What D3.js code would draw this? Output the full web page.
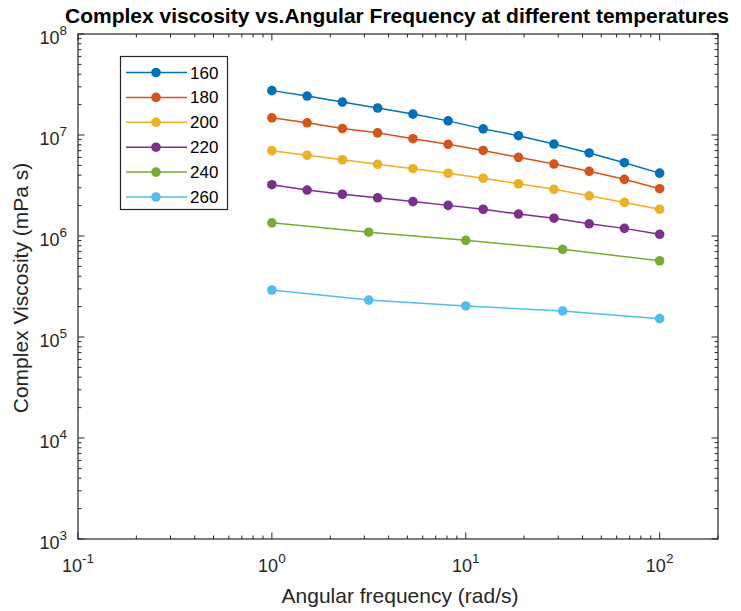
<!DOCTYPE html>
<html>
<head>
<meta charset="utf-8">
<script src="https://cdn.jsdelivr.net/npm/d3@7"></script>
<style>
  body { margin: 0; background: #fff; }
  svg { font-family: "Liberation Sans", Arial, sans-serif; }
</style>
</head>
<body>
<svg id="chart" width="741" height="611"></svg>
<script>

// frequencies (rad/s)
var freqFine = [1, 1.52, 2.31, 3.51, 5.34, 8.11, 12.3, 18.7, 28.5, 43.3, 65.8, 100];
var freqCoarse = [1, 3.16, 10, 31.6, 100];

// complex viscosity (mPa s)
var visc160 = [2.75e7, 2.43e7, 2.12e7, 1.85e7, 1.61e7, 1.38e7, 1.15e7, 9.84e6, 8.14e6, 6.64e6, 5.32e6, 4.19e6];
var visc180 = [1.48e7, 1.32e7, 1.16e7, 1.05e7, 9.19e6, 8.09e6, 7.03e6, 6.01e6, 5.16e6, 4.37e6, 3.64e6, 2.94e6];
var visc200 = [7.0e6, 6.30e6, 5.69e6, 5.13e6, 4.64e6, 4.18e6, 3.73e6, 3.29e6, 2.90e6, 2.50e6, 2.15e6, 1.84e6];
var visc220 = [3.22e6, 2.85e6, 2.59e6, 2.39e6, 2.19e6, 2.01e6, 1.84e6, 1.65e6, 1.50e6, 1.32e6, 1.19e6, 1.04e6];
var visc240 = [1.35e6, 1.09e6, 9.07e5, 7.38e5, 5.69e5];
var visc260 = [2.92e5, 2.32e5, 2.03e5, 1.81e5, 1.52e5];

var temps = ["160", "180", "200", "220", "240", "260"];
var colors = ["#0072BD", "#D95319", "#EDB120", "#7E2F8E", "#77AC30", "#4DBEEE"];

var xTicks = [0.1, 1, 10, 100];
var yTicks = [1e3, 1e4, 1e5, 1e6, 1e7, 1e8];

var series = [
	{name: temps[0], x: freqFine, y: visc160},
	{name: temps[1], x: freqFine, y: visc180},
	{name: temps[2], x: freqFine, y: visc200},
	{name: temps[3], x: freqFine, y: visc220},
	{name: temps[4], x: freqCoarse, y: visc240},
	{name: temps[5], x: freqCoarse, y: visc260}
];

var plotL = 78, plotR = 718, plotT = 34, plotB = 539;
var axisColor = "#262626";

var svg = d3.select("#chart");

var xScale = d3.scaleLog().domain([0.1, 200]).range([plotL, plotR]);
var yScale = d3.scaleLog().domain([1e3, 1e8]).range([plotB, plotT]);

// minor + major ticks, inward, on all four sides
function minorTicks(lo, hi) {
	var out = [];
	for (var e = Math.floor(Math.log10(lo)); e <= Math.ceil(Math.log10(hi)); e++) {
		for (var m = 1; m < 10; m++) {
			var v = m * Math.pow(10, e);
			if (v >= lo * 0.999 && v <= hi * 1.001) out.push({v: v, major: m == 1});
		}
	}
	return out;
}

var g = svg.append("g");

var xt = minorTicks(0.1, 200);
g.selectAll("line.xtb").data(xt).enter().append("line")
	.attr("x1", d => xScale(d.v)).attr("x2", d => xScale(d.v))
	.attr("y1", plotB).attr("y2", d => plotB - (d.major ? 6.5 : 3.5))
	.attr("stroke", axisColor).attr("stroke-width", 1);
g.selectAll("line.xtt").data(xt).enter().append("line")
	.attr("x1", d => xScale(d.v)).attr("x2", d => xScale(d.v))
	.attr("y1", plotT).attr("y2", d => plotT + (d.major ? 6.5 : 3.5))
	.attr("stroke", axisColor).attr("stroke-width", 1);

var yt = minorTicks(1e3, 1e8);
g.selectAll("line.ytl").data(yt).enter().append("line")
	.attr("y1", d => yScale(d.v)).attr("y2", d => yScale(d.v))
	.attr("x1", plotL).attr("x2", d => plotL + (d.major ? 6.5 : 3.5))
	.attr("stroke", axisColor).attr("stroke-width", 1);
g.selectAll("line.ytr").data(yt).enter().append("line")
	.attr("y1", d => yScale(d.v)).attr("y2", d => yScale(d.v))
	.attr("x1", plotR).attr("x2", d => plotR - (d.major ? 6.5 : 3.5))
	.attr("stroke", axisColor).attr("stroke-width", 1);

g.append("rect")
	.attr("x", plotL).attr("y", plotT)
	.attr("width", plotR - plotL).attr("height", plotB - plotT)
	.attr("fill", "none").attr("stroke", axisColor).attr("stroke-width", 1.2);

// tick labels as 10^n
function powLabel(sel, v) {
	var e = Math.round(Math.log10(v));
	sel.append("tspan").text("10");
	sel.append("tspan").attr("dy", -9).attr("font-size", 13.5).text(e);
}

xTicks.forEach(function(v) {
	var t = svg.append("text")
		.attr("x", xScale(v)).attr("y", 572)
		.attr("text-anchor", "middle")
		.attr("font-size", 18).attr("fill", axisColor);
	powLabel(t, v);
});

yTicks.forEach(function(v) {
	var t = svg.append("text")
		.attr("x", 67).attr("y", yScale(v) + 10)
		.attr("text-anchor", "end")
		.attr("font-size", 18).attr("fill", axisColor);
	powLabel(t, v);
});

// lines + markers
var line = d3.line()
	.x(d => xScale(d[0]))
	.y(d => yScale(d[1]));

series.forEach(function(s, i) {
	var pts = s.x.map((x, j) => [x, s.y[j]]);
	svg.append("path")
		.attr("d", line(pts))
		.attr("fill", "none")
		.attr("stroke", colors[i])
		.attr("stroke-width", 1.5);
	svg.selectAll("circle.s" + i).data(pts).enter().append("circle")
		.attr("cx", d => xScale(d[0]))
		.attr("cy", d => yScale(d[1]))
		.attr("r", 4.8)
		.attr("fill", colors[i]);
});

// legend
var leg = svg.append("g");
leg.append("rect")
	.attr("x", 120.5).attr("y", 56.5)
	.attr("width", 107).attr("height", 153)
	.attr("fill", "#fff").attr("stroke", axisColor).attr("stroke-width", 1.2);

temps.forEach(function(t, i) {
	var y = 72.5 + i * 24.9;
	leg.append("line")
		.attr("x1", 126).attr("x2", 187).attr("y1", y).attr("y2", y)
		.attr("stroke", colors[i]).attr("stroke-width", 1.5);
	leg.append("circle")
		.attr("cx", 156).attr("cy", y).attr("r", 4.8).attr("fill", colors[i]);
	leg.append("text")
		.attr("x", 190).attr("y", y + 6)
		.attr("font-size", 17).attr("fill", "#000")
		.text(t);
});

// title and axis labels
svg.append("text")
	.attr("x", 397).attr("y", 23)
	.attr("text-anchor", "middle")
	.attr("font-size", 21).attr("font-weight", "bold")
	.attr("fill", "#000")
	.text("Complex viscosity vs.Angular Frequency at different temperatures");

svg.append("text")
	.attr("x", 400).attr("y", 603)
	.attr("text-anchor", "middle")
	.attr("font-size", 21).attr("fill", axisColor)
	.text("Angular frequency (rad/s)");

svg.append("text")
	.attr("transform", "translate(28,288) rotate(-90)")
	.attr("text-anchor", "middle")
	.attr("font-size", 21).attr("fill", axisColor)
	.text("Complex Viscosity (mPa s)");

</script>
</body>
</html>
